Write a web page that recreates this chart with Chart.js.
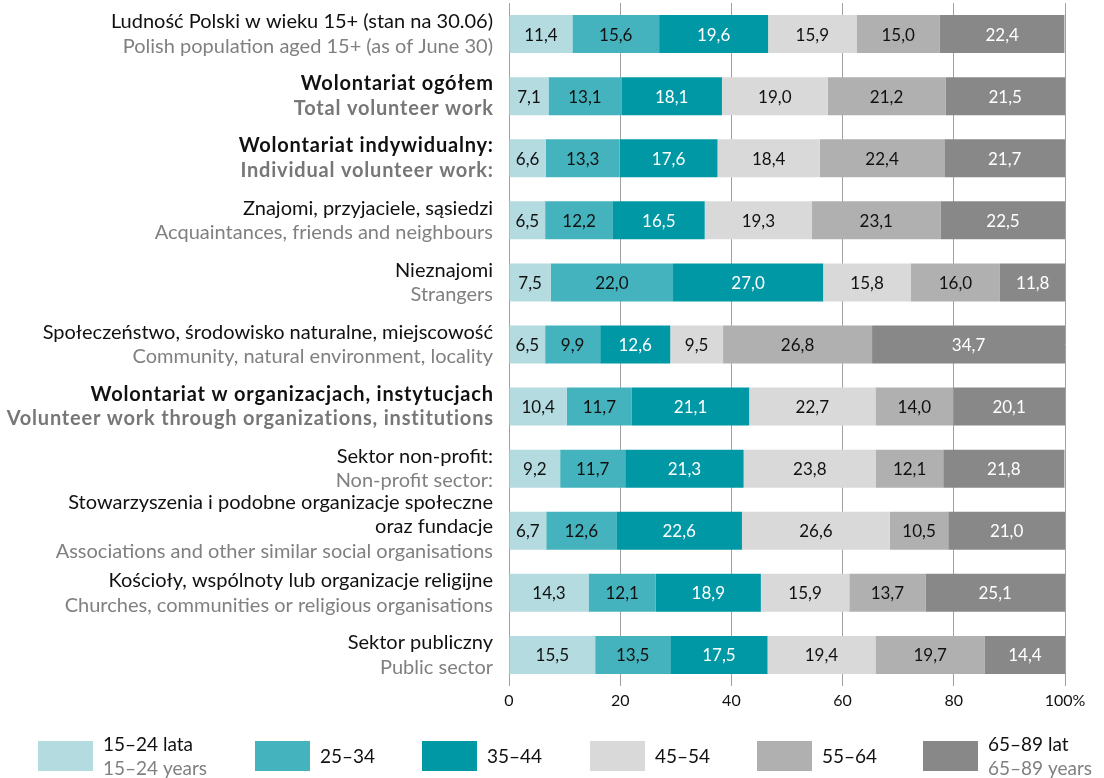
<!DOCTYPE html>
<html>
<head>
<meta charset="utf-8">
<script src="https://cdn.jsdelivr.net/npm/chart.js@4/dist/chart.umd.min.js"></script>
<style>
html,body{margin:0;padding:0;background:#fff;}
#wrap{width:1104px;height:778px;}
</style>
</head>
<body>
<div id="wrap"><canvas id="c" width="1104" height="778"></canvas></div>
<script>
// ---- data ----
const categoriesPL = [
  ["Ludność Polski w wieku 15+ (stan na 30.06)"],
  ["Wolontariat ogółem"],
  ["Wolontariat indywidualny:"],
  ["Znajomi, przyjaciele, sąsiedzi"],
  ["Nieznajomi"],
  ["Społeczeństwo, środowisko naturalne, miejscowość"],
  ["Wolontariat w organizacjach, instytucjach"],
  ["Sektor non-profit:"],
  ["Stowarzyszenia i podobne organizacje społeczne", "oraz fundacje"],
  ["Kościoły, wspólnoty lub organizacje religijne"],
  ["Sektor publiczny"]
];
const categoriesEN = [
  "Polish population aged 15+ (as of June 30)",
  "Total volunteer work",
  "Individual volunteer work:",
  "Acquaintances, friends and neighbours",
  "Strangers",
  "Community, natural environment, locality",
  "Volunteer work through organizations, institutions",
  "Non-profit sector:",
  "Associations and other similar social organisations",
  "Churches, communities or religious organisations",
  "Public sector"
];
const boldRows = [false, true, true, false, false, false, true, false, false, false, false];

const age15_24 = [11.4, 7.1, 6.6, 6.5, 7.5, 6.5, 10.4, 9.2, 6.7, 14.3, 15.5];
const age25_34 = [15.6, 13.1, 13.3, 12.2, 22.0, 9.9, 11.7, 11.7, 12.6, 12.1, 13.5];
const age35_44 = [19.6, 18.1, 17.6, 16.5, 27.0, 12.6, 21.1, 21.3, 22.6, 18.9, 17.5];
const age45_54 = [15.9, 19.0, 18.4, 19.3, 15.8, 9.5, 22.7, 23.8, 26.6, 15.9, 19.4];
const age55_64 = [15.0, 21.2, 22.4, 23.1, 16.0, 26.8, 14.0, 12.1, 10.5, 13.7, 19.7];
const age65_89 = [22.4, 21.5, 21.7, 22.5, 11.8, 34.7, 20.1, 21.8, 21.0, 25.1, 14.4];

const seriesPL = ["15–24 lata", "25–34", "35–44", "45–54", "55–64", "65–89 lat"];
const seriesEN = ["15–24 years", "", "", "", "", "65–89 years"];
const xTicks = [0, 20, 40, 60, 80, 100];

// ---- styles ----
const colors = ['#b3dbe0', '#45b3bd', '#0098a5', '#d9d9d9', '#b0b0b0', '#888888'];
const labelColors = ['#111', '#111', '#fff', '#111', '#111', '#fff'];
const FONT = 'Lato, "Open Sans", sans-serif';

const seriesData = [age15_24, age25_34, age35_44, age45_54, age55_64, age65_89];
const datasets = seriesData.map((d, i) => ({
  label: seriesPL[i],
  data: d,
  backgroundColor: colors[i],
  borderWidth: 0,
  categoryPercentage: 1,
  barPercentage: 0.612
}));

const fmt = v => v.toFixed(1).replace('.', ',');

const valueLabels = {
  id: 'valueLabels',
  afterDatasetsDraw(chart) {
    const ctx = chart.ctx;
    ctx.save();
    ctx.font = '17px ' + FONT;
    ctx.textAlign = 'center';
    ctx.textBaseline = 'middle';
    chart.data.datasets.forEach((ds, di) => {
      const meta = chart.getDatasetMeta(di);
      meta.data.forEach((bar, i) => {
        const p = bar.getProps(['x', 'y', 'base'], true);
        ctx.fillStyle = labelColors[di];
        ctx.fillText(fmt(ds.data[i]), (p.x + p.base) / 2, p.y + 1);
      });
    });
    ctx.restore();
  }
};

const rowLabels = {
  id: 'rowLabels',
  afterDraw(chart) {
    const ctx = chart.ctx;
    const ys = chart.scales.y;
    const xRight = chart.chartArea.left - 16;
    const lh = 24.5;
    ctx.save();
    ctx.textAlign = 'right';
    ctx.textBaseline = 'middle';
    categoriesPL.forEach((pl, i) => {
      const cy = ys.getPixelForValue(i);
      const lines = pl.map(t => ({t, c: '#111'})).concat([{t: categoriesEN[i], c: '#808080'}]);
      const n = lines.length;
      let y0 = cy - (n - 1) * lh / 2 - (n > 2 ? 4 : 0);
      lines.forEach((ln, k) => {
        if (boldRows[i]) {
          ctx.font = 'bold 20px ' + FONT;
          ctx.letterSpacing = '0.8px';
        } else {
          ctx.font = '20px ' + FONT;
          ctx.letterSpacing = '0px';
        }
        ctx.fillStyle = (boldRows[i] && ln.c !== '#111') ? '#777' : ln.c;
        ctx.fillText(ln.t, xRight - (boldRows[i] ? -0.8 : 0), y0 + k * lh);
      });
    });
    ctx.restore();
  }
};

const legendDraw = {
  id: 'legendDraw',
  afterDraw(chart) {
    const ctx = chart.ctx;
    const xs = [38, 255, 422, 590, 757, 923];
    const boxTop = 741, boxH = 30, boxW = 55;
    ctx.save();
    ctx.textAlign = 'left';
    ctx.textBaseline = 'middle';
    ctx.font = '19px ' + FONT;
    seriesPL.forEach((s, i) => {
      ctx.fillStyle = colors[i];
      ctx.fillRect(xs[i], boxTop, boxW, boxH);
      const tx = xs[i] + boxW + 10;
      if (seriesEN[i]) {
        ctx.fillStyle = '#111';
        ctx.fillText(s, tx, boxTop + 4);
        ctx.fillStyle = '#808080';
        ctx.fillText(seriesEN[i], tx, boxTop + 28);
      } else {
        ctx.fillStyle = '#111';
        ctx.fillText(s, tx, boxTop + 16);
      }
    });
    ctx.restore();
  }
};

new Chart(document.getElementById('c'), {
  type: 'bar',
  data: { labels: categoriesEN, datasets },
  options: {
    indexAxis: 'y',
    responsive: false,
    animation: false,
    layout: { padding: { left: 509, right: 39, top: 3, bottom: 62 } },
    plugins: { legend: { display: false }, tooltip: { enabled: false } },
    scales: {
      x: {
        stacked: true,
        min: 0, max: 100,
        afterBuildTicks(scale) { scale.ticks = xTicks.map(v => ({ value: v })); },
        afterFit(scale) { scale.height = 30; },
        grid: { color: '#a0a0a0', lineWidth: 1, drawTicks: false },
        border: { display: false },
        ticks: {
          padding: 5,
          color: '#111',
          font: { family: FONT, size: 16 },
          callback: v => v === 100 ? '100%' : String(v)
        }
      },
      y: {
        stacked: true,
        display: false
      }
    }
  },
  plugins: [valueLabels, rowLabels, legendDraw]
});
</script>
</body>
</html>
